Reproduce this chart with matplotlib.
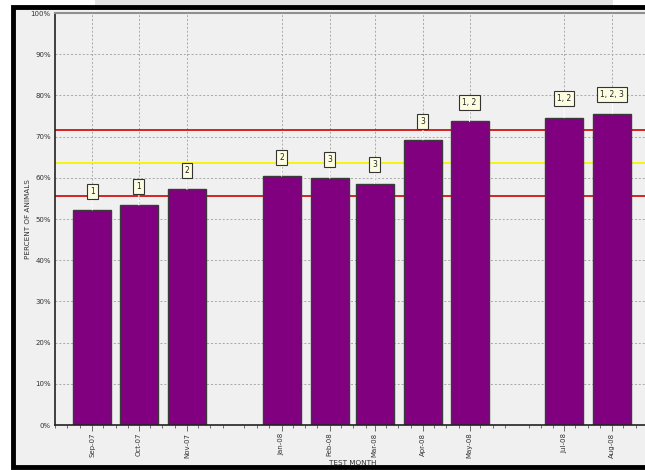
import matplotlib
matplotlib.use("Agg")
import matplotlib.pyplot as plt
import matplotlib.dates as mdates
from matplotlib.patches import Rectangle
import datetime as dt

months = ["2007-09", "2007-10", "2007-11", "2008-01", "2008-02", "2008-03",
          "2008-04", "2008-05", "2008-07", "2008-08"]
values = [52.2, 53.4, 57.2, 60.4, 59.9, 58.6, 69.2, 73.7, 74.6, 75.6]
flags = ["1", "1", "2", "2", "3", "3", "3", "1, 2", "1, 2", "1, 2, 3"]
red_levels = [71.6, 55.6]
yellow_level = 63.6
yticks = [0, 10, 20, 30, 40, 50, 60, 70, 80, 90, 100]

dates = [dt.datetime.strptime(m + "-01", "%Y-%m-%d") for m in months]

plt.rcParams['font.family'] = ['DejaVu Sans']
W, H = 645, 470
fig = plt.figure(figsize=(6.45, 4.70), dpi=100, facecolor="white")

# frame / border
fig.patches.append(Rectangle((95 / W, 1 - 5 / H), (613 - 95) / W, 5 / H,
                             transform=fig.transFigure, facecolor="#e4e4e4",
                             edgecolor="none", zorder=-10))
fig.patches.append(Rectangle((13 / W, 1 - 467 / H), 700 / W, (467 - 7) / H,
                             transform=fig.transFigure, facecolor="#f0f0f0",
                             edgecolor="black", linewidth=3.5, zorder=-10))

ax = fig.add_axes([55 / W, 1 - 425 / H, (645 - 55) / W, (425 - 13) / H])
ax.set_zorder(1)
ax.set_facecolor("#f0f0f0")

ax.set_ylim(0, 100)
ax.set_xlim(dt.datetime(2007, 8, 8), dt.datetime(2008, 8, 22))

ax.grid(True, which="major", color="#a8a8a8", linestyle=(0, (2, 2)), linewidth=0.7, zorder=0)
ax.set_axisbelow(True)

for lv in red_levels:
    ax.axhline(lv, color="#d00000", linewidth=1.2, zorder=1)
ax.axhline(yellow_level, color="#f5f500", linewidth=1.3, zorder=1)

ax.bar(dates, values, width=24.5, color="#800080", edgecolor="#3a3a3a",
       linewidth=1.0, zorder=2, align="center")

for d, v, f in zip(dates, values, flags):
    ax.annotate(f, xy=(d, v), xytext=(0, 13.5), textcoords="offset points",
                ha="center", va="center", fontsize=5.5, color="#222222",
                bbox=dict(boxstyle="square,pad=0.4", facecolor="#fdfde2",
                          edgecolor="#333333", linewidth=0.8),
                arrowprops=dict(arrowstyle="-", color="white", lw=0.8,
                                shrinkA=0, shrinkB=0),
                zorder=4)

ax.xaxis.set_major_formatter(mdates.DateFormatter("%b-%y"))
ax.xaxis.set_minor_locator(mdates.DayLocator(bymonthday=[8, 16, 24]))
ax.set_xticks(dates)
ax.tick_params(axis="x", which="major", labelrotation=90, labelsize=5,
               length=4, width=0.6, color="#555555", labelcolor="#333333", pad=1.5)
ax.tick_params(axis="x", which="minor", length=2.5, width=0.6, color="#555555")
ax.set_yticks(yticks)
ax.set_yticklabels([f"{t}%" for t in yticks])
ax.tick_params(axis="y", labelsize=5, length=0, labelcolor="#333333", pad=3)

ax.spines["right"].set_visible(False)
ax.spines["top"].set_color("#909090")
ax.spines["top"].set_linewidth(1.5)
ax.spines["left"].set_color("#222222")
ax.spines["left"].set_linewidth(1.2)
ax.spines["bottom"].set_color("#222222")
ax.spines["bottom"].set_linewidth(1.2)

fig.text(28 / W, 1 - 219 / H, "PERCENT OF ANIMALS", rotation=90, ha="center",
         va="center", fontsize=5.2, color="#333333")
fig.text(353 / W, 1 - 463 / H, "TEST MONTH", ha="center", va="center",
         fontsize=5.2, color="#333333")

fig.savefig("out.png", dpi=100, facecolor="white")
